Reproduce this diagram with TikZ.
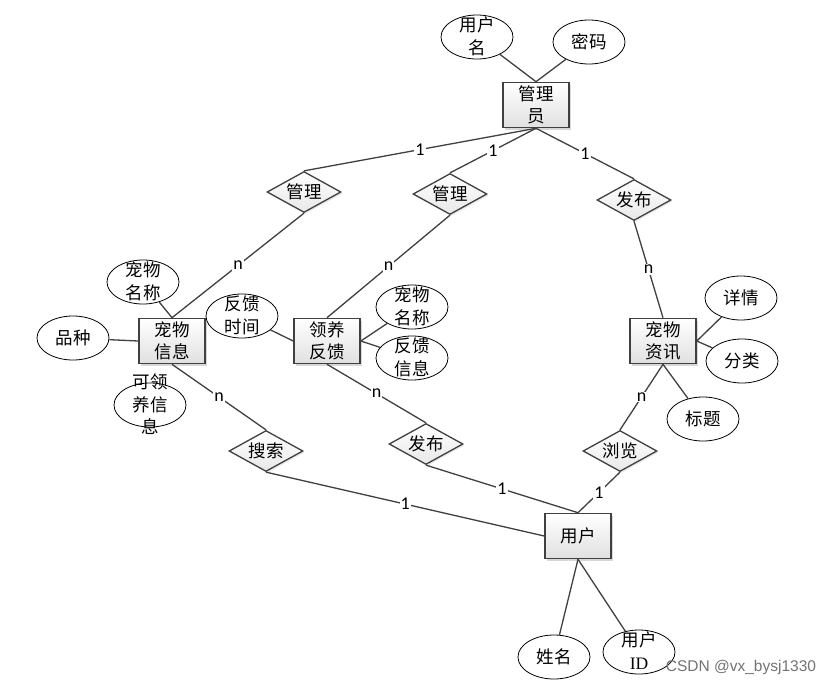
\documentclass[tikz,border=0pt]{standalone}
\usepackage{fontspec}
\setmainfont{Noto Sans CJK SC}
\newfontfamily\numfont{Carlito}
\newfontfamily\serfont{Liberation Serif}
\newfontfamily\wmfont{Liberation Sans}
\usetikzlibrary{shapes.geometric,shadows}
\definecolor{edgegray}{RGB}{64,64,64}
\newcommand{\stk}[1]{\raisebox{-6pt}[0pt][0pt]{\begin{tabular}{@{}c@{}}#1\end{tabular}}}

\begin{document}
\begin{tikzpicture}[x=1pt, y=-1pt,
    every node/.style={font=\fontsize{17.5}{22.5}\selectfont},
    entity/.style={draw=edgegray, line width=1.6pt, rectangle, minimum width=66pt, minimum height=45pt, inner sep=0pt, align=center, top color=white, bottom color=black!12, drop shadow={shadow xshift=2pt, shadow yshift=-2pt, fill=black!30}},
    rel/.style={diamond, draw=edgegray, line width=1.3pt, aspect=1.8, minimum width=74pt, minimum height=41pt, inner sep=0pt, top color=white, bottom color=black!9, drop shadow={shadow xshift=1.5pt, shadow yshift=-1.5pt, fill=black!18}},
    attr/.style={ellipse, draw=black, line width=0.8pt, minimum width=72pt, minimum height=44pt, inner sep=0pt, fill=white},
    link/.style={draw=edgegray, line width=1.3pt},
    lbl/.style={fill=white, inner sep=1pt, font=\numfont\fontsize{18}{18}\selectfont}]
    \useasboundingbox[fill=white] (0,0) rectangle (833,686);
    % entities
    \node[entity] (admin) at (536,105) {管理\\员};
    \node[entity] (pet) at (172,341) {宠物\\信息};
    \node[entity] (fb) at (327,341) {领养\\反馈};
    \node[entity] (news) at (663,341) {宠物\\资讯};
    \node[entity] (user) at (578,536) {用户};
    % relationships
    \node[rel] (mg1) at (304,192) {管理};
    \node[rel] (mg2) at (450,194) {管理};
    \node[rel] (pub1) at (634,200) {发布};
    \node[rel] (search) at (266,451) {搜索};
    \node[rel] (pub2) at (426,444) {发布};
    \node[rel] (browse) at (620,451) {浏览};
    % attributes
    \node[attr] (uname) at (477,37) {\stk{用户\\名}};
    \node[attr] (pwd) at (589,42) {密码};
    \node[attr] (pname) at (143,282) {\stk{宠物\\名称}};
    \node[attr] (breed) at (73,338) {品种};
    \node[attr] (avail) at (150,405) {\stk{可领\\养信\\息}};
    \node[attr] (fbtime) at (242,316) {\stk{反馈\\时间}};
    \node[attr] (fbname) at (412,307) {\stk{宠物\\名称}};
    \node[attr] (fbinfo) at (412,358) {\stk{反馈\\信息}};
    \node[attr] (detail) at (741,298) {详情};
    \node[attr] (cat) at (742,361) {分类};
    \node[attr] (title) at (703,419) {标题};
    \node[attr] (name) at (554,657) {姓名};
    \node[attr] (uid) at (639,652) {\stk{用户\\{\serfont ID}}};
    % attribute links
    \draw[link] (uname) -- (admin.north);
    \draw[link] (pwd) -- (admin.north);
    \draw[link] (pname) -- (pet.north);
    \draw[link] (breed) -- (pet.west);
    \draw[link] (fbtime) -- (fb.west);
    \draw[link] (fbname) -- (fb.east);
    \draw[link] (fbinfo) -- (fb.east);
    \draw[link] (detail) -- (news.east);
    \draw[link] (cat) -- (news.east);
    \draw[link] (title) -- (news.south);
    \draw[link] (name) -- (user.south);
    \draw[link] (uid) -- (user.south);
    % relationship links
    \draw[link] (admin.south) -- node[lbl]{1} (mg1.north);
    \draw[link] (admin.south) -- node[lbl]{1} (mg2.north);
    \draw[link] (admin.south) -- node[lbl]{1} (pub1.north);
    \draw[link] (mg1.south) -- node[lbl]{n} (pet.north);
    \draw[link] (mg2.south) -- node[lbl]{n} (fb.north);
    \draw[link] (pub1.south) -- node[lbl]{n} (news.north);
    \draw[link] (pet.south) -- node[lbl]{n} (search.north);
    \draw[link] (fb.south) -- node[lbl]{n} (pub2.north);
    \draw[link] (news.south) -- node[lbl]{n} (browse.north);
    \draw[link] (search.south) -- node[lbl]{1} (user.west);
    \draw[link] (pub2.south) -- node[lbl]{1} (user.north);
    \draw[link] (browse.south) -- node[lbl]{1} (user.north);
    % watermark
    \node[font=\wmfont\fontsize{15.5}{15.5}\selectfont, text=black!55] (wm) at (741,667) {CSDN @vx\_bysj1330};
\end{tikzpicture}
\end{document}
